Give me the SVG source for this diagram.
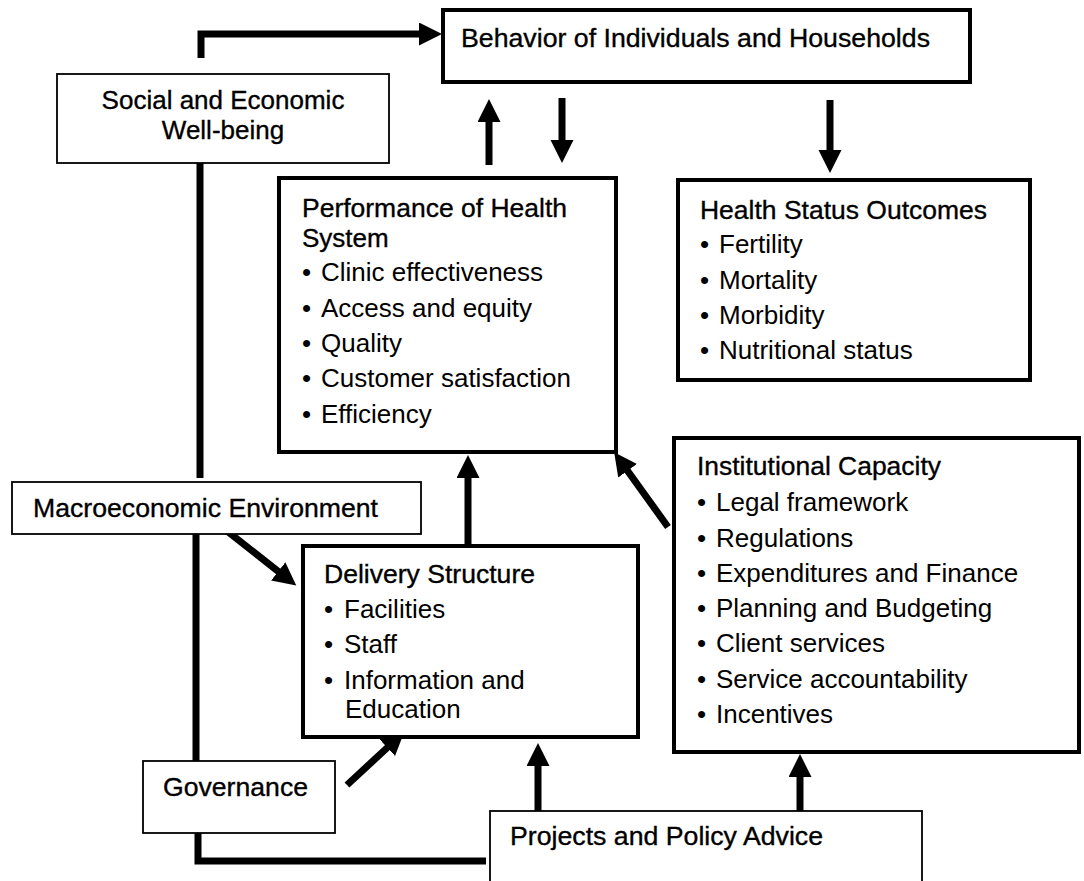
<svg xmlns="http://www.w3.org/2000/svg" width="1084" height="881" viewBox="0 0 1084 881">
  <style>
    .thick { fill: #fff; stroke: #000; stroke-width: 4; }
    .thin { fill: #fff; stroke: #000; stroke-width: 1.8; }
    .hd { font-family: "Liberation Sans", Arial, sans-serif; font-size: 26px; fill: #000; stroke: #000; stroke-width: 0.35; }
    .it { font-family: "Liberation Sans", Arial, sans-serif; font-size: 26px; fill: #000; }
    .conn { fill: none; stroke: #000; stroke-width: 7; stroke-linejoin: miter; }
  </style>
  <defs>
    <marker id="ah" markerUnits="userSpaceOnUse" markerWidth="24" markerHeight="24" refX="1" refY="11.5" orient="auto">
      <path d="M0,0 L23,11.5 L0,23 Z" fill="#000"/>
    </marker>
  </defs>

  <g id="connectors">
    <path class="conn" d="M201,58 V34 H420" marker-end="url(#ah)"/>
    <path class="conn" d="M489,165 V121" marker-end="url(#ah)"/>
    <path class="conn" d="M562,98 V141" marker-end="url(#ah)"/>
    <path class="conn" d="M830,100 V151" marker-end="url(#ah)"/>
    <path class="conn" d="M200,163 V478"/>
    <path class="conn" d="M196,531 V762"/>
    <path class="conn" d="M198,833 V861 H486"/>
    <path class="conn" d="M227,531 L279,572" marker-end="url(#ah)"/>
    <path class="conn" d="M347,785 L388,747" marker-end="url(#ah)"/>
    <path class="conn" d="M468,545 V477" marker-end="url(#ah)"/>
    <path class="conn" d="M668,527 L627,470" marker-end="url(#ah)"/>
    <path class="conn" d="M538,811 V765" marker-end="url(#ah)"/>
    <path class="conn" d="M800,811 V776" marker-end="url(#ah)"/>
  </g>

  <g id="behavior">
    <rect class="thick" x="443" y="10" width="527" height="72"/>
    <text class="hd" x="461" y="47" textLength="469" lengthAdjust="spacingAndGlyphs">Behavior of Individuals and Households</text>
  </g>

  <g id="social">
    <rect class="thin" x="57" y="74" width="332" height="89"/>
    <text class="hd" x="223" y="109" text-anchor="middle">Social and Economic</text>
    <text class="hd" x="223" y="139" text-anchor="middle">Well-being</text>
  </g>

  <g id="performance">
    <rect class="thick" x="279" y="178" width="337" height="274"/>
    <text class="hd" x="302" y="217" textLength="265" lengthAdjust="spacingAndGlyphs">Performance of Health</text>
    <text class="hd" x="302" y="247">System</text>
    <text class="it" y="281"><tspan x="302">•</tspan><tspan x="321">Clinic effectiveness</tspan></text>
    <text class="it" y="317"><tspan x="302">•</tspan><tspan x="321">Access and equity</tspan></text>
    <text class="it" y="352"><tspan x="302">•</tspan><tspan x="321">Quality</tspan></text>
    <text class="it" y="387"><tspan x="302">•</tspan><tspan x="321">Customer satisfaction</tspan></text>
    <text class="it" y="423"><tspan x="302">•</tspan><tspan x="321">Efficiency</tspan></text>
  </g>

  <g id="health">
    <rect class="thick" x="678" y="180" width="352" height="200"/>
    <text class="hd" x="700" y="219" textLength="287" lengthAdjust="spacingAndGlyphs">Health Status Outcomes</text>
    <text class="it" y="253"><tspan x="700">•</tspan><tspan x="719">Fertility</tspan></text>
    <text class="it" y="289"><tspan x="700">•</tspan><tspan x="719">Mortality</tspan></text>
    <text class="it" y="324"><tspan x="700">•</tspan><tspan x="719">Morbidity</tspan></text>
    <text class="it" y="359"><tspan x="700">•</tspan><tspan x="719">Nutritional status</tspan></text>
  </g>

  <g id="macro">
    <rect class="thin" x="12" y="482" width="409" height="52"/>
    <text class="hd" x="33" y="517" textLength="345" lengthAdjust="spacingAndGlyphs">Macroeconomic Environment</text>
  </g>

  <g id="institutional">
    <rect class="thick" x="674" y="438" width="405" height="314"/>
    <text class="hd" x="697" y="475" textLength="244" lengthAdjust="spacingAndGlyphs">Institutional Capacity</text>
    <text class="it" y="511"><tspan x="697">•</tspan><tspan x="716">Legal framework</tspan></text>
    <text class="it" y="547"><tspan x="697">•</tspan><tspan x="716">Regulations</tspan></text>
    <text class="it" y="582"><tspan x="697">•</tspan><tspan x="716">Expenditures and Finance</tspan></text>
    <text class="it" y="617"><tspan x="697">•</tspan><tspan x="716">Planning and Budgeting</tspan></text>
    <text class="it" y="652"><tspan x="697">•</tspan><tspan x="716">Client services</tspan></text>
    <text class="it" y="688"><tspan x="697">•</tspan><tspan x="716">Service accountability</tspan></text>
    <text class="it" y="723"><tspan x="697">•</tspan><tspan x="716">Incentives</tspan></text>
  </g>

  <g id="delivery">
    <rect class="thick" x="303" y="546" width="335" height="191"/>
    <text class="hd" x="324" y="583" textLength="211" lengthAdjust="spacingAndGlyphs">Delivery Structure</text>
    <text class="it" y="618"><tspan x="324">•</tspan><tspan x="344">Facilities</tspan></text>
    <text class="it" y="653"><tspan x="324">•</tspan><tspan x="344">Staff</tspan></text>
    <text class="it" y="689"><tspan x="324">•</tspan><tspan x="344">Information and</tspan></text>
    <text class="it" x="345" y="718">Education</text>
  </g>

  <g id="governance">
    <rect class="thin" x="143" y="761" width="192" height="72"/>
    <text class="hd" x="163" y="796" textLength="145" lengthAdjust="spacingAndGlyphs">Governance</text>
  </g>

  <g id="projects">
    <rect class="thin" x="490" y="811" width="432" height="90"/>
    <text class="hd" x="510" y="845" textLength="313" lengthAdjust="spacingAndGlyphs">Projects and Policy Advice</text>
  </g>
</svg>
